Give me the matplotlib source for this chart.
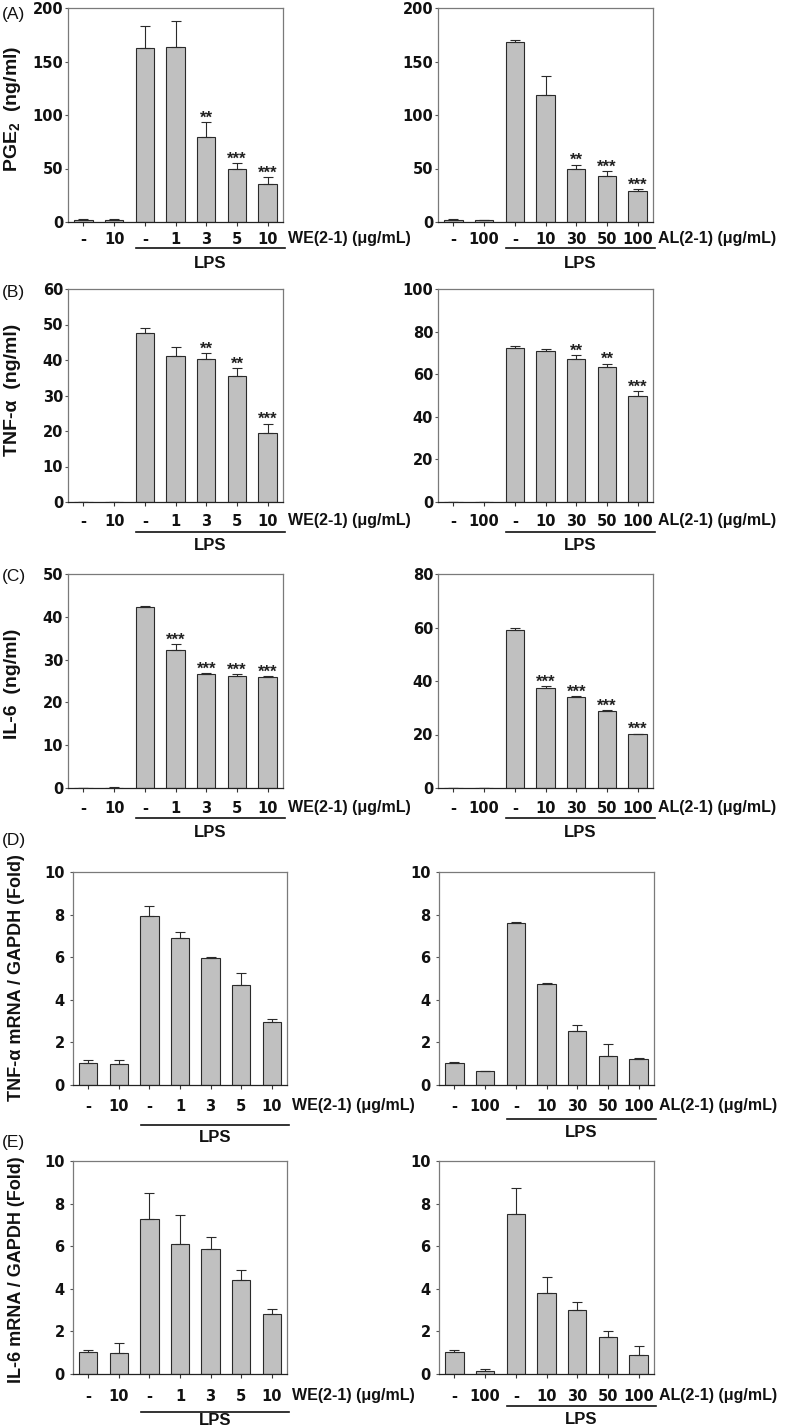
import matplotlib
matplotlib.use("Agg")
import matplotlib.pyplot as plt
from matplotlib import transforms
import numpy as np

plt.rcParams['mathtext.fontset'] = 'custom'
plt.rcParams['mathtext.rm'] = 'Liberation Sans'
plt.rcParams['mathtext.bf'] = 'Liberation Sans:bold'

# ---------------- data ----------------
we_labels = ["-", "10", "-", "1", "3", "5", "10"]
al_labels = ["-", "100", "-", "10", "30", "50", "100"]

pge2_we = [2.2, 2.2, 162.5, 163.4, 79.4, 49.7, 35.3]
pge2_we_err = [0.3, 0.3, 21.0, 24.4, 13.7, 5.3, 7.0]
pge2_we_sig = ["", "", "", "", "**", "***", "***"]
pge2_al = [2.2, 1.6, 168.0, 118.4, 49.7, 43.4, 29.4]
pge2_al_err = [0.3, 0.3, 2.0, 18.5, 4.0, 3.8, 1.0]
pge2_al_sig = ["", "", "", "", "**", "***", "***"]

tnf_we = [0, 0, 47.7, 41.2, 40.3, 35.6, 19.4]
tnf_we_err = [0, 0, 1.3, 2.5, 1.7, 2.1, 2.7]
tnf_we_sig = ["", "", "", "", "**", "**", "***"]
tnf_al = [0, 0, 72.2, 71.1, 67.3, 63.4, 49.8]
tnf_al_err = [0, 0, 1.1, 0.5, 1.6, 1.6, 2.2]
tnf_al_sig = ["", "", "", "", "**", "**", "***"]

il6_we = [0, 0.05, 42.4, 32.2, 26.7, 26.2, 25.9]
il6_we_err = [0, 0.1, 0.1, 1.5, 0.2, 0.4, 0.2]
il6_we_sig = ["", "", "", "***", "***", "***", "***"]
il6_al = [0, 0, 59.0, 37.4, 34.0, 28.9, 20.2]
il6_al_err = [0, 0, 1.0, 0.8, 0.4, 0.3, 0.15]
il6_al_sig = ["", "", "", "***", "***", "***", "***"]

tnf_mrna_we = [1.02, 0.97, 7.95, 6.88, 5.94, 4.69, 2.98]
tnf_mrna_we_err = [0.15, 0.19, 0.47, 0.32, 0.06, 0.55, 0.14]
tnf_mrna_al = [1.02, 0.67, 7.61, 4.73, 2.52, 1.34, 1.22]
tnf_mrna_al_err = [0.04, 0.01, 0.05, 0.06, 0.28, 0.60, 0.06]

il6_mrna_we = [1.01, 0.98, 7.27, 6.12, 5.88, 4.43, 2.82]
il6_mrna_we_err = [0.10, 0.47, 1.23, 1.35, 0.53, 0.45, 0.24]
il6_mrna_al = [1.01, 0.14, 7.53, 3.79, 3.00, 1.76, 0.89]
il6_mrna_al_err = [0.10, 0.11, 1.22, 0.77, 0.40, 0.24, 0.42]

no_sig = [""] * 7

# ---------------- layout ----------------
W, H = 788, 1428
fig = plt.figure(figsize=(W / 100, H / 100), dpi=100)

def rect(l, t, r, b):
    return [l / W, 1 - b / H, (r - l) / W, (b - t) / H]

SANS = "Liberation Sans"
TICKF = "DejaVu Sans"
BAR = "#c0c0c0"

# (values, errors, sig, ymax, ystep, xlabels, agent, rect px, (lab, line, lps) offsets px)
panels = [
    (pge2_we, pge2_we_err, pge2_we_sig, 200, 50, we_labels, "WE(2-1) (μg/mL)", (68, 8, 283, 222), (16, 26, 41)),
    (pge2_al, pge2_al_err, pge2_al_sig, 200, 50, al_labels, "AL(2-1) (μg/mL)", (438, 8, 653, 222), (16, 26, 41)),
    (tnf_we, tnf_we_err, tnf_we_sig, 60, 10, we_labels, "WE(2-1) (μg/mL)", (68, 289, 283, 502), (18, 30, 43)),
    (tnf_al, tnf_al_err, tnf_al_sig, 100, 20, al_labels, "AL(2-1) (μg/mL)", (438, 289, 653, 502), (18, 30, 43)),
    (il6_we, il6_we_err, il6_we_sig, 50, 10, we_labels, "WE(2-1) (μg/mL)", (68, 574, 283, 788), (19, 30, 44)),
    (il6_al, il6_al_err, il6_al_sig, 80, 20, al_labels, "AL(2-1) (μg/mL)", (438, 574, 653, 788), (19, 30, 44)),
    (tnf_mrna_we, tnf_mrna_we_err, no_sig, 10, 2, we_labels, "WE(2-1) (μg/mL)", (73, 872, 287, 1085), (20, 40, 52)),
    (tnf_mrna_al, tnf_mrna_al_err, no_sig, 10, 2, al_labels, "AL(2-1) (μg/mL)", (439, 872, 654, 1085), (20, 34, 47)),
    (il6_mrna_we, il6_mrna_we_err, no_sig, 10, 2, we_labels, "WE(2-1) (μg/mL)", (73, 1161, 287, 1374), (21, 38, 46)),
    (il6_mrna_al, il6_mrna_al_err, no_sig, 10, 2, al_labels, "AL(2-1) (μg/mL)", (439, 1161, 654, 1374), (21, 32, 45)),
]

TICK_LEN_PX = 4
for vals, errs, sig, ymax, ystep, xlabels, agent, rpx, offs in panels:
    ax = fig.add_axes(rect(*rpx))
    hpx = rpx[3] - rpx[1]
    lab_off, line_off, lps_off = offs
    x = np.arange(len(vals))
    ax.bar(x, vals, width=0.6, color=BAR, edgecolor="#2a2a2a", linewidth=0.8, zorder=2)
    ax.errorbar(x, vals, yerr=[np.zeros(len(vals)), errs], fmt="none",
                ecolor="#2a2a2a", elinewidth=0.8, capsize=3.5, capthick=0.8, zorder=3)
    for xi, v, e, s in zip(x, vals, errs, sig):
        if s:
            ax.annotate(s, xy=(xi, v + e), xytext=(0, -0.5), textcoords="offset points",
                        ha="center", va="baseline", fontsize=12, fontweight="bold",
                        family=SANS, color="#222222")
    ax.set_xlim(-0.5, len(vals) - 0.5)
    ax.set_ylim(0, ymax)
    ax.set_yticks(np.arange(0, ymax + ystep / 2, ystep))
    ax.set_xticks(x)
    ax.set_xticklabels(xlabels)
    pad_px = lab_off - TICK_LEN_PX - 6
    ax.tick_params(axis="x", direction="out", length=TICK_LEN_PX * 0.72, width=0.8,
                   pad=pad_px * 0.72, color="#333333")
    ypad = 1.0 if rpx[0] < 70 or rpx[0] == 438 else 3.5
    ax.tick_params(axis="y", direction="out", length=2.5, width=0.8, pad=ypad, color="#555555")
    for lab in ax.get_xticklabels() + ax.get_yticklabels():
        lab.set_fontfamily(TICKF)
        lab.set_fontweight("bold")
        lab.set_fontsize(10.5)
        lab.set_color("#111111")
    for side in ["top", "right", "left"]:
        ax.spines[side].set_color("#7a7a7a")
        ax.spines[side].set_linewidth(0.9)
    ax.spines["bottom"].set_color("#222222")
    ax.spines["bottom"].set_linewidth(0.9)
    # agent label to the right of the tick labels
    ax.annotate(agent, xy=(1, 0), xycoords="axes fraction", xytext=(5, -(lab_off + 5)),
                textcoords="offset pixels", ha="left", va="baseline",
                fontsize=11.5, fontweight="bold", family=SANS, color="#111111",
                annotation_clip=False)
    # LPS bracket
    tr = transforms.blended_transform_factory(ax.transData, ax.transAxes)
    x0, x1 = 2 - 0.28, len(vals) - 1 + 0.55
    ax.plot([x0, x1], [-line_off / hpx] * 2, transform=tr, color="#111111",
            linewidth=1.2, clip_on=False)
    ax.text((x0 + x1) / 2, -(lps_off + 5) / hpx, "LPS", transform=tr, ha="center", va="baseline",
            fontsize=12, fontweight="bold", family=SANS, color="#111111")

# y-axis titles (left column)
ylabels = [
    ("PGE$_\\mathbf{2}$  (ng/ml)", 13, 109, 14),
    ("TNF-α  (ng/ml)", 13, 390, 14),
    ("IL-6  (ng/ml)", 13, 684, 14),
    ("TNF-α mRNA / GAPDH (Fold)", 17, 978, 13),
    ("IL-6 mRNA / GAPDH (Fold)", 17, 1270, 13),
]
for txt, xp, yp, fs in ylabels:
    fig.text(xp / W, 1 - yp / H, txt, rotation=90, ha="center", va="center",
             fontsize=fs, fontweight="bold", family=SANS, color="#111111")

# panel letters
letters = [("(A)", 15), ("(B)", 292), ("(C)", 577), ("(D)", 840), ("(E)", 1143)]
for t, yp in letters:
    fig.text(2 / W, 1 - yp / H, t, ha="left", va="center", fontsize=12.5,
             family=SANS, color="#111111")

fig.savefig("out.png", dpi=100, facecolor="white")
